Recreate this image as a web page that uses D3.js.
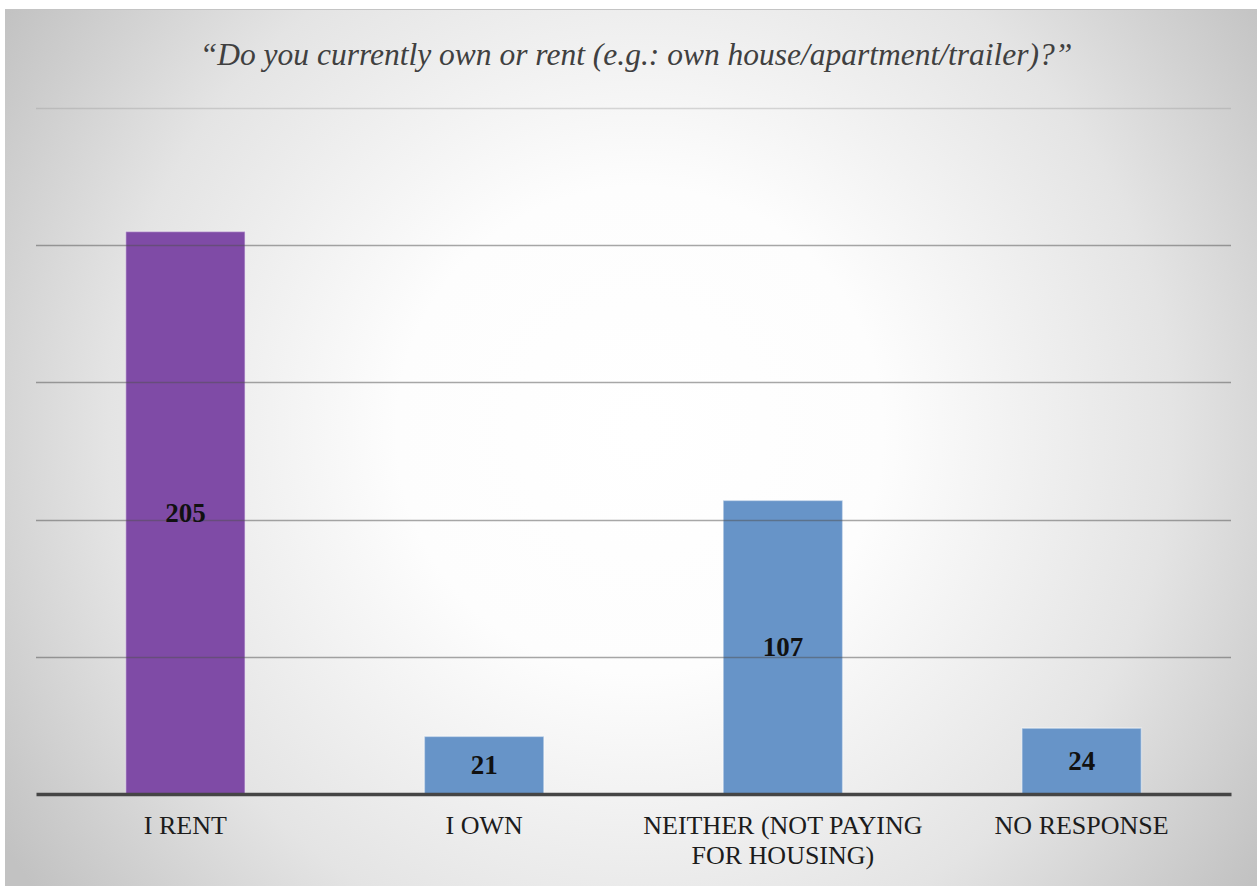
<!DOCTYPE html>
<html>
<head>
<meta charset="utf-8">
<script src="https://cdn.jsdelivr.net/npm/d3@7"></script>
<style>
  html, body { margin: 0; padding: 0; background: #ffffff; }
  svg { display: block; }
</style>
</head>
<body>
<div id="chart"></div>
<script>
// Survey responses: housing situation
const categories = ["I RENT", "I OWN", "NEITHER (NOT PAYING FOR HOUSING)", "NO RESPONSE"];
const categoryLines = [["I RENT"], ["I OWN"], ["NEITHER (NOT PAYING", "FOR HOUSING)"], ["NO RESPONSE"]];
const counts = [205, 21, 107, 24];
const barColors = ["#7f4ba6", "#6794c8", "#6794c8", "#6794c8"];
const gridValues = [50, 100, 150, 200, 250];
const titleText = "\u201CDo you currently own or rent (e.g.: own house/apartment/trailer)?\u201D";

const W = 1257, H = 886;
const frame = { x: 5, y: 9, w: W - 5, h: H - 9 };
const plot = { left: 36, right: 1231, top: 108, bottom: 794 };
const serif = "'Liberation Serif', 'DejaVu Serif', serif";

const svg = d3.select("#chart").append("svg")
  .attr("width", W).attr("height", H);

const defs = svg.append("defs");
const grad = defs.append("radialGradient")
  .attr("id", "bg").attr("gradientUnits", "userSpaceOnUse")
  .attr("cx", 640).attr("cy", 430).attr("r", 760);
grad.append("stop").attr("offset", "0").attr("stop-color", "#ffffff");
grad.append("stop").attr("offset", "0.32").attr("stop-color", "#fdfdfd");
grad.append("stop").attr("offset", "0.7").attr("stop-color", "#e4e4e4");
grad.append("stop").attr("offset", "1").attr("stop-color", "#c2c2c2");

svg.append("rect")
  .attr("x", frame.x).attr("y", frame.y)
  .attr("width", frame.w).attr("height", frame.h)
  .attr("fill", "url(#bg)");
svg.append("line")
  .attr("x1", frame.x).attr("x2", W).attr("y1", frame.y + 0.5).attr("y2", frame.y + 0.5)
  .attr("stroke", "#c4c4c4").attr("stroke-width", 1);

const x = d3.scaleBand()
  .domain(categories)
  .range([plot.left, plot.right])
  .paddingInner(0.6).paddingOuter(0.3);

const y = d3.scaleLinear()
  .domain([0, 250])
  .range([plot.bottom, plot.top]);

// Bars
svg.append("g").selectAll("rect")
  .data(counts)
  .join("rect")
  .attr("x", (d, i) => x(categories[i]))
  .attr("y", d => y(d))
  .attr("width", x.bandwidth())
  .attr("height", d => y(0) - y(d))
  .attr("fill", (d, i) => barColors[i])
  .attr("stroke", "rgba(255,255,255,0.45)")
  .attr("stroke-width", 1.5);

// Gridlines drawn over the bars, semi-transparent
const grid = svg.append("g");
grid.selectAll("line")
  .data(gridValues)
  .join("line")
  .attr("x1", plot.left).attr("x2", plot.right)
  .attr("y1", d => Math.round(y(d)) + 0.5)
  .attr("y2", d => Math.round(y(d)) + 0.5)
  .attr("stroke", d => d === 250 ? "rgba(150,150,150,0.35)" : "rgba(80,80,80,0.5)")
  .attr("stroke-width", 1.3);

// Baseline axis
const xAxis = d3.axisBottom(x).tickSize(0).tickFormat("");
const axisG = svg.append("g")
  .attr("transform", `translate(0,${plot.bottom})`)
  .call(xAxis);
axisG.select(".domain")
  .attr("stroke", "#454545").attr("stroke-width", 3.5);

// Category labels
const labels = svg.append("g");
categories.forEach((c, i) => {
  const t = labels.append("text")
    .attr("x", x(c) + x.bandwidth() / 2)
    .attr("y", 834)
    .attr("text-anchor", "middle")
    .attr("font-family", serif)
    .attr("font-size", 26)
    .attr("fill", "#1c1c1c");
  categoryLines[i].forEach((line, j) => {
    t.append("tspan")
      .attr("x", x(c) + x.bandwidth() / 2)
      .attr("dy", j === 0 ? 0 : 30)
      .text(line);
  });
});

// Value labels centred in each bar
svg.append("g").selectAll("text")
  .data(counts)
  .join("text")
  .attr("x", (d, i) => x(categories[i]) + x.bandwidth() / 2)
  .attr("y", d => (y(d) + y(0)) / 2 + 9)
  .attr("text-anchor", "middle")
  .attr("font-family", serif)
  .attr("font-size", 27)
  .attr("font-weight", "bold")
  .attr("fill", "#111111")
  .text(d => d);

// Title
svg.append("text")
  .attr("x", 636).attr("y", 65)
  .attr("text-anchor", "middle")
  .attr("font-family", serif)
  .attr("font-style", "italic")
  .attr("font-size", 31.5)
  .attr("fill", "#404040")
  .text(titleText);
</script>
</body>
</html>
